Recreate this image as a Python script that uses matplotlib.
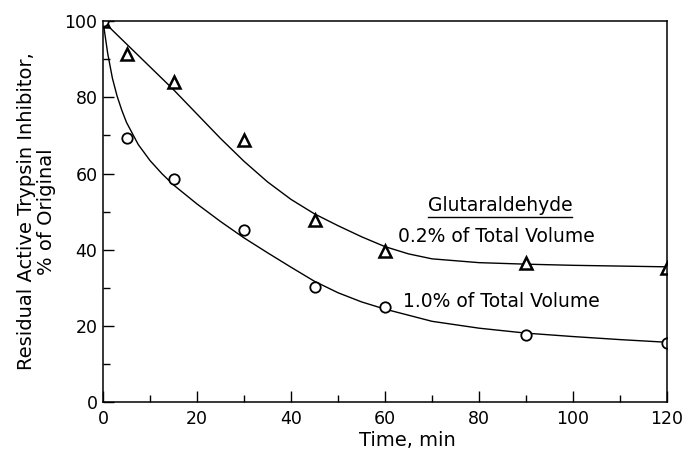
import matplotlib.pyplot as plt
import numpy as np

# measured points
time_pts = [0, 5, 15, 30, 45, 60, 90, 120]
low_glut = [100, 91.3, 84.1, 68.8, 47.8, 39.7, 36.5, 35.3]    # 0.2 %
high_glut = [100, 69.2, 58.5, 45.3, 30.2, 24.9, 17.6, 15.4]   # 1.0 %

# hand-drawn curves
low_curve_t = [0, 5, 10, 15, 20, 25, 30, 35, 40, 45, 50, 55, 60, 65, 70, 80, 90, 100, 110, 120]
low_curve_v = [100, 94, 88, 82, 75.6, 69.2, 63.2, 57.8, 53.2, 49.4, 46.3, 43.4, 40.8,
               38.9, 37.6, 36.6, 36.2, 35.9, 35.7, 35.5]
high_curve_t = [0, 1, 2, 3, 4, 5, 7.5, 10, 12.5, 15, 20, 25, 30, 35, 40, 45, 50, 55, 60,
                70, 80, 90, 100, 110, 120]
high_curve_v = [100, 91.5, 85, 80.3, 76.6, 73.4, 67.6, 63.4, 60, 57, 52, 47.4, 43.1, 39.2,
                35.4, 31.7, 28.7, 26.3, 24.4, 21.2, 19.4, 18.1, 17.2, 16.4, 15.7]

plt.rcParams['font.family'] = 'DejaVu Sans'
fig = plt.figure(figsize=(6.84, 4.59), dpi=100)
ax = fig.add_axes([0.1506, 0.124, 0.8246, 0.830])

ax.plot(low_curve_t, low_curve_v, color='black', linewidth=1.0)
ax.plot(high_curve_t, high_curve_v, color='black', linewidth=1.0)
ax.plot(time_pts, low_glut, linestyle='none', marker='^', markersize=8,
        markerfacecolor='white', markeredgecolor='black', markeredgewidth=1.8)
ax.plot(time_pts, high_glut, linestyle='none', marker='o', markersize=7.5,
        markerfacecolor='white', markeredgecolor='black', markeredgewidth=1.3)

ax.set_xlim(0, 120)
ax.set_ylim(0, 100)
ax.set_xticks(np.arange(0, 121, 20))
ax.set_yticks(np.arange(0, 101, 20))
ax.set_xticks(np.arange(0, 121, 10), minor=True)
ax.set_yticks(np.arange(0, 101, 10), minor=True)
ax.tick_params(which='both', direction='in', top=False, right=False, width=1.0,
               labelsize=12.5)
ax.tick_params(which='major', length=8)
ax.tick_params(which='minor', length=5)
ax.tick_params(axis='x', pad=6)
ax.tick_params(axis='y', pad=4)
for sp in ax.spines.values():
    sp.set_linewidth(1.1)

ax.set_xlabel('Time, min', fontsize=14, x=0.54, labelpad=2)
ax.set_ylabel('Residual Active Trypsin Inhibitor,\n% of Original', fontsize=14,
              labelpad=6, linespacing=1.05)

head = ax.text(84.5, 51.7, 'Glutaraldehyde', fontsize=13.5, ha='center', va='center')
ax.text(62.8, 43.4, '0.2% of Total Volume', fontsize=13.5, ha='left', va='center')
ax.text(63.9, 26.3, '1.0% of Total Volume', fontsize=13.5, ha='left', va='center')

# underline the heading
fig.canvas.draw()
bb = head.get_window_extent().transformed(ax.transData.inverted())
ax.plot([bb.x0, bb.x1], [bb.y0 - 0.6, bb.y0 - 0.6], color='black', linewidth=1.0)

fig.savefig('out.png', dpi=100)
